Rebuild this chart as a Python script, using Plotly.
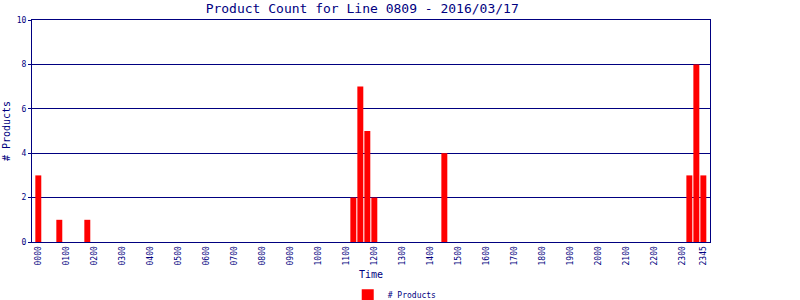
import plotly.graph_objects as go

# 15-minute time slots of the day
times = ["%02d%02d" % (h, m) for h in range(24) for m in (0, 15, 30, 45)]

# product counts per slot
counts = [
    3, 0, 0, 1, 0, 0, 0, 1,   # 0000-0145
    0, 0, 0, 0, 0, 0, 0, 0,   # 0200-0345
    0, 0, 0, 0, 0, 0, 0, 0,   # 0400-0545
    0, 0, 0, 0, 0, 0, 0, 0,   # 0600-0745
    0, 0, 0, 0, 0, 0, 0, 0,   # 0800-0945
    0, 0, 0, 0, 0, 2, 7, 5,   # 1000-1145
    2, 0, 0, 0, 0, 0, 0, 0,   # 1200-1345
    0, 0, 4, 0, 0, 0, 0, 0,   # 1400-1545
    0, 0, 0, 0, 0, 0, 0, 0,   # 1600-1745
    0, 0, 0, 0, 0, 0, 0, 0,   # 1800-1945
    0, 0, 0, 0, 0, 0, 0, 0,   # 2000-2145
    0, 0, 0, 0, 0, 3, 8, 3,   # 2200-2345
]

tick_labels = ["%02d00" % h for h in range(24)] + ["2345"]

title = "Product Count for Line 0809 - 2016/03/17"
series_name = "# Products"

NAVY = "#000080"
FONT = "DejaVu Sans Mono"

fig = go.Figure()
fig.add_trace(go.Bar(
    x=times, y=counts, name=series_name,
    marker=dict(color="#ff0000", line=dict(width=0)),
    width=0.85,
))

fig.update_layout(
    width=800, height=300,
    margin=dict(l=32, r=90, t=20, b=58, autoexpand=False),
    paper_bgcolor="white", plot_bgcolor="white",
    font=dict(family=FONT, color=NAVY, size=9),
    title=dict(text=title, x=0.487, xanchor="center", xref="paper",
               y=0.973, yanchor="middle",
               font=dict(family=FONT, size=13, color=NAVY)),
    showlegend=True,
    legend=dict(orientation="h", x=0.535, xanchor="center", y=-0.24, yanchor="middle",
                font=dict(family=FONT, size=8, color=NAVY),
                itemwidth=30, bgcolor="rgba(0,0,0,0)"),
    bargap=0.15,
)

fig.update_xaxes(
    type="category", range=[-0.9, 95.95], automargin=False,
    tickmode="array", tickvals=tick_labels, ticktext=tick_labels,
    tickangle=-90, tickfont=dict(family=FONT, size=8, color=NAVY),
    showgrid=False, showline=True, linecolor=NAVY, linewidth=1, mirror=True,
    ticks="", title=dict(text="Time", font=dict(family=FONT, size=10, color=NAVY), standoff=6),
)
fig.update_yaxes(
    range=[0, 10], tickvals=[0, 2, 4, 6, 8, 10], automargin=False,
    tickfont=dict(family=FONT, size=8, color=NAVY),
    showgrid=True, gridcolor=NAVY, gridwidth=1,
    showline=True, linecolor=NAVY, linewidth=1, mirror=True,
    ticks="outside", ticklen=3, tickcolor=NAVY,
    zeroline=False,
    title=dict(text="# Products", font=dict(family=FONT, size=10, color=NAVY), standoff=4),
)

fig.write_html("out.html")
